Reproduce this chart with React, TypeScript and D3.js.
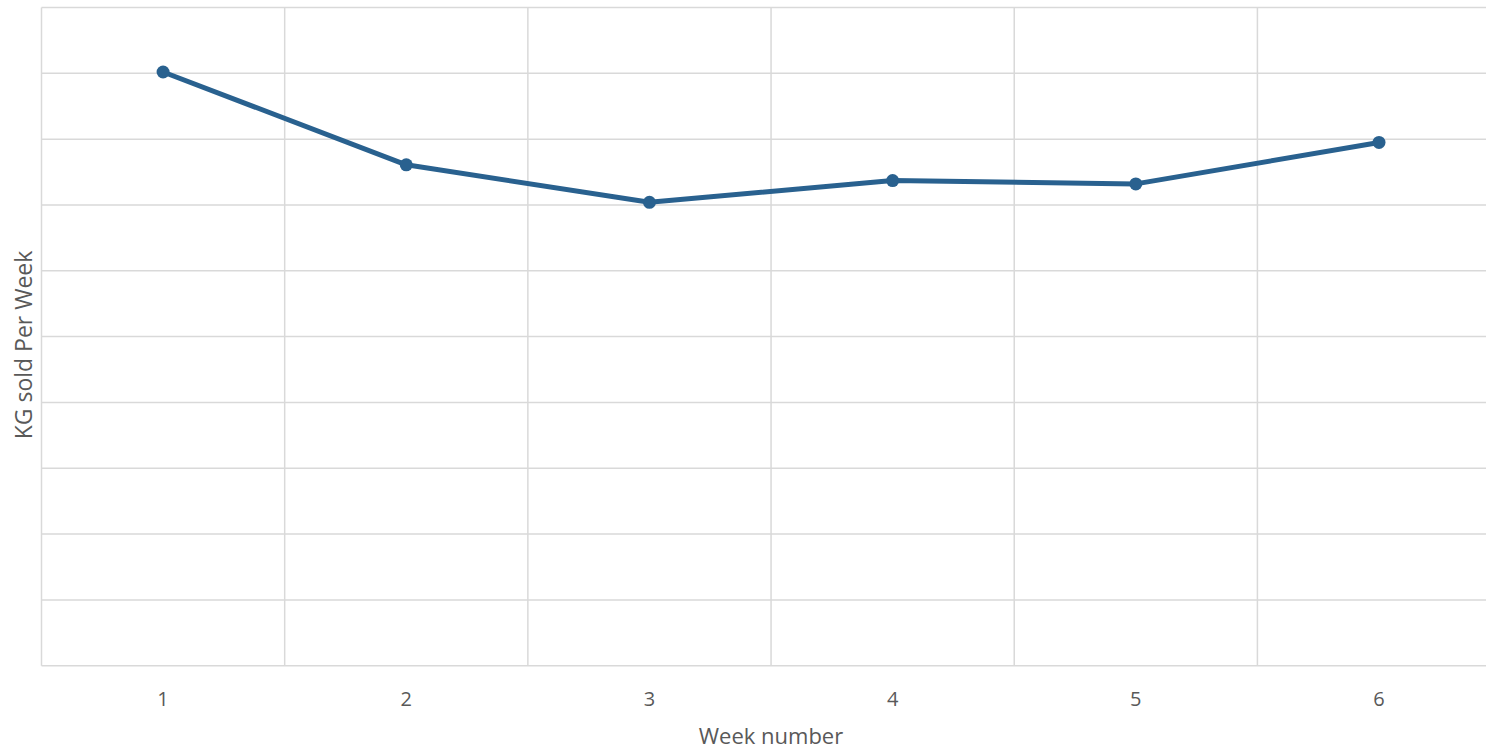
import React from "react";
import * as d3 from "d3";

const weeks = ["1", "2", "3", "4", "5", "6"];
const kgSold = [90.2, 76.1, 70.4, 73.7, 73.2, 79.5];
const yTicks = [0, 10, 20, 30, 40, 50, 60, 70, 80, 90, 100];

const W = 1486;
const H = 750;
const left = 41.5;
const right = 1500.6;
const top = 7.5;
const bottom = 665.7;

export default function App() {
  const x = d3.scaleBand<string>().domain(weeks).range([left, right]).paddingInner(0).paddingOuter(0);
  const y = d3.scaleLinear().domain([0, 100]).range([bottom, top]);
  const pts = weeks.map((w, i) => [x(w)! + x.bandwidth() / 2, y(kgSold[i])] as [number, number]);
  const line = d3.line()(pts) || "";
  const boundaries = weeks.map((w) => x(w)!).concat([x(weeks[weeks.length - 1])! + x.bandwidth()]);
  const grid = "#d9d9d9";
  const textColor = "#595959";
  const font = "'Open Sans', sans-serif";
  return (
    <div style={{ position: "absolute", left: 0, top: 0, width: W, height: H, background: "#fff" }}>
      <svg width={W} height={H} style={{ display: "block" }}>
        <rect x={0} y={0} width={W} height={H} fill="#fff" />
        {yTicks.map((t) => (
          <line key={"h" + t} x1={left} x2={right} y1={y(t)} y2={y(t)} stroke={grid} strokeWidth={1.5} />
        ))}
        {boundaries.map((b, i) => (
          <line key={"v" + i} x1={b} x2={b} y1={top} y2={bottom} stroke={grid} strokeWidth={1.5} />
        ))}
        <path d={line} fill="none" stroke="#29618f" strokeWidth={5} strokeLinejoin="round" />
        {pts.map((p, i) => (
          <circle key={"c" + i} cx={p[0]} cy={p[1]} r={6.5} fill="#29618f" />
        ))}
        {weeks.map((w) => (
          <text key={"t" + w} x={x(w)! + x.bandwidth() / 2} y={706} textAnchor="middle" fontFamily={font} fontSize={20} fill={textColor}>
            {w}
          </text>
        ))}
        <text x={771} y={744} textAnchor="middle" fontFamily={font} fontSize={22} fill={textColor}>
          Week number
        </text>
        <text transform={`translate(32,345) rotate(-90)`} textAnchor="middle" fontFamily={font} fontSize={23} fill={textColor}>
          KG sold Per Week
        </text>
      </svg>
    </div>
  );
}
